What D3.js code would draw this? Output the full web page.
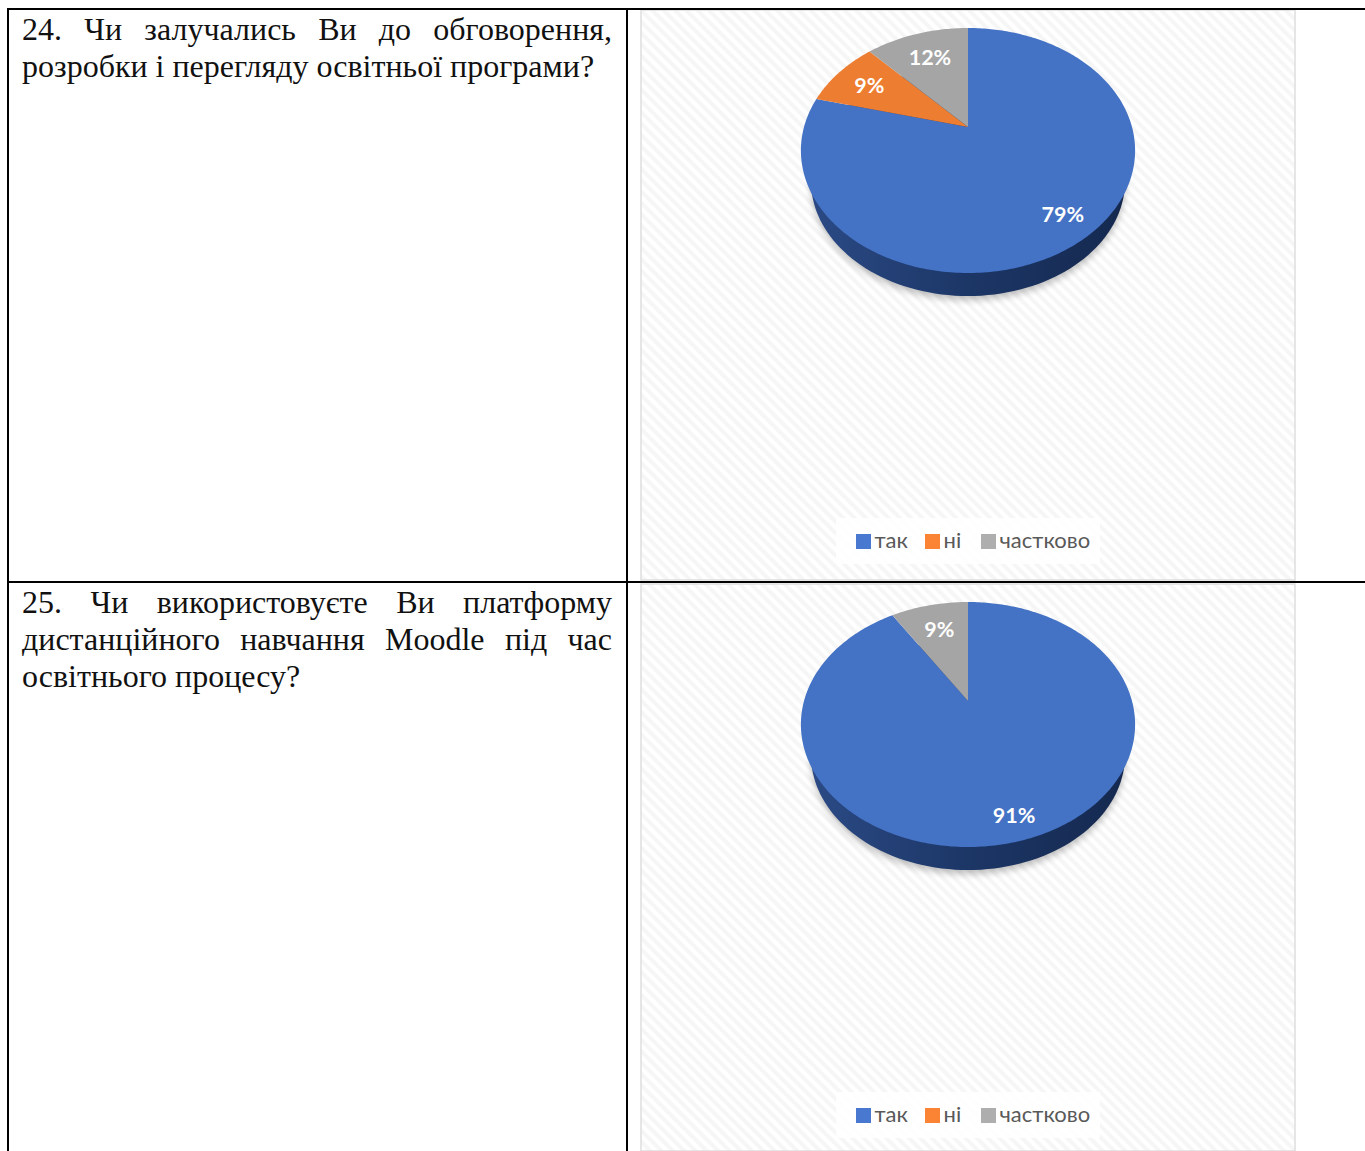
<!DOCTYPE html>
<html><head><meta charset="utf-8">
<script src="https://cdn.jsdelivr.net/npm/d3@7"></script>
<style>
html,body{margin:0;padding:0;background:#fff;overflow:hidden}
body{width:1365px;height:1151px;position:relative}
svg{position:absolute;left:0;top:0}
.q{position:absolute;left:22px;width:590px;font:32px/37px "Liberation Serif",serif;color:#111;text-align:justify;hyphens:none}
</style></head><body>
<script>
const categories = ["так", "ні", "частково"];
const seriesQ24 = [79, 9, 12];
const seriesQ25 = [91, 0, 9];
const question24 = "24. Чи залучались Ви до обговорення, розробки і перегляду освітньої програми?";
const question25 = "25. Чи використовуєте Ви платформу дистанційного навчання Moodle під час освітнього процесу?";
const colors = ["#4472c4", "#ed7d31", "#a5a5a5"];

const charts = [
  {values: seriesQ24, q: question24, top: 10, h: 570, qTop: 11, labelR: [0.825, 0.75, 0.71]},
  {values: seriesQ25, q: question25, top: 584, h: 567, qTop: 584, labelR: [0.85, 0, 0.71]}
];

const svg = d3.select("body").append("svg").attr("width", 1365).attr("height", 1151);
const defs = svg.append("defs");
const pat = defs.append("pattern").attr("id", "hatch").attr("width", 8).attr("height", 8)
  .attr("patternUnits", "userSpaceOnUse").attr("patternTransform", "rotate(45)");
pat.append("rect").attr("width", 8).attr("height", 8).attr("fill", "#ffffff");
pat.append("rect").attr("width", 8).attr("height", 4).attr("fill", "#f6f6f6");
const wall = defs.append("linearGradient").attr("id", "wall");
wall.append("stop").attr("offset", "0").attr("stop-color", "#2b4a85");
wall.append("stop").attr("offset", "0.5").attr("stop-color", "#1c3666");
wall.append("stop").attr("offset", "1").attr("stop-color", "#15294f");
defs.append("filter").attr("id", "blur").attr("x", "-20%").attr("y", "-20%").attr("width", "140%").attr("height", "140%")
  .append("feGaussianBlur").attr("stdDeviation", 4);

// perspective projection of the unit disc onto the tilted pie's plane
const P = 47 / 245, AX = 164, AY = 118, APEX_X = 968, APEX_DY = 117;
const WALL_SCALE = 0.94, WALL_DY = 31.8;
function project(angle, r) {
  const X = Math.sin(angle) * r, Y = -Math.cos(angle) * r, d = 1 - P * Y;
  return [AX * X / d, AY * Y / d];
}
const line = d3.line();
function outline() {
  return line(d3.range(0, 361, 2).map(a => project(a * Math.PI / 180, 1))) + "Z";
}
function slicePath(s) {
  const n = Math.max(2, Math.ceil((s.endAngle - s.startAngle) * 60));
  const pts = [[0, 0]];
  for (let i = 0; i <= n; i++) pts.push(project(s.startAngle + (s.endAngle - s.startAngle) * i / n, 1));
  return line(pts) + "Z";
}
const pie = d3.pie().sort(null).value(d => d).startAngle(0).endAngle(2 * Math.PI);

charts.forEach(c => {
  const panel = svg.append("g");
  panel.append("rect").attr("x", 641).attr("y", c.top).attr("width", 654).attr("height", c.h)
    .attr("fill", "url(#hatch)").attr("stroke", "#dedede").attr("stroke-width", 1.5);

  const g = svg.append("g").attr("transform", `translate(${APEX_X},${c.top + APEX_DY})`);
  g.append("path").attr("d", outline()).attr("transform", `translate(0,${WALL_DY + 4}) scale(${WALL_SCALE})`)
    .attr("fill", "#000").attr("opacity", 0.25).attr("filter", "url(#blur)");
  g.append("path").attr("d", outline()).attr("transform", `translate(0,${WALL_DY}) scale(${WALL_SCALE})`).attr("fill", "url(#wall)");
  const arcs = pie(c.values);
  g.selectAll("path.slice").data(arcs.filter(d => d.value > 0)).join("path")
    .attr("class", "slice").attr("d", slicePath).attr("fill", d => colors[d.index]);
  g.selectAll("text").data(arcs.filter(d => d.value > 0)).join("text")
    .attr("transform", d => {
      const p = project((d.startAngle + d.endAngle) / 2, c.labelR[d.index]);
      return `translate(${p[0]},${p[1]})`;
    })
    .attr("text-anchor", "middle").attr("dy", "0.35em")
    .attr("font-family", "Lato").attr("font-weight", 700).attr("font-size", 21.5).attr("fill", "#fff")
    .text(d => d.value + "%");

  const ly = c.top + 508;
  svg.append("rect").attr("x", 836).attr("y", ly).attr("width", 264).attr("height", 46).attr("fill", "#fff").attr("opacity", 0.85);
  const lx = d3.scaleOrdinal().domain(categories).range([856, 925, 981]);
  const lg = svg.append("g").selectAll("g").data(categories).join("g")
    .attr("transform", d => `translate(${lx(d)},${ly + 16})`);
  lg.append("rect").attr("width", 15).attr("height", 15).attr("fill", (d, i) => d3.color(colors[i]).brighter(0.15));
  lg.append("text").attr("x", 18.5).attr("y", 14).attr("font-family", "Lato").attr("font-size", 22).attr("fill", "#595959").text(d => d);

  d3.select("body").append("div").attr("class", "q").style("top", c.qTop + "px").text(c.q);
});

// table rules
const rules = [[8, 9, 1365, 9], [8, 582, 1365, 582], [8, 8, 8, 1151], [627, 8, 627, 1151]];
svg.append("g").selectAll("line").data(rules).join("line")
  .attr("x1", d => d[0]).attr("y1", d => d[1]).attr("x2", d => d[2]).attr("y2", d => d[3])
  .attr("stroke", "#000").attr("stroke-width", 2);
</script>
</body></html>
